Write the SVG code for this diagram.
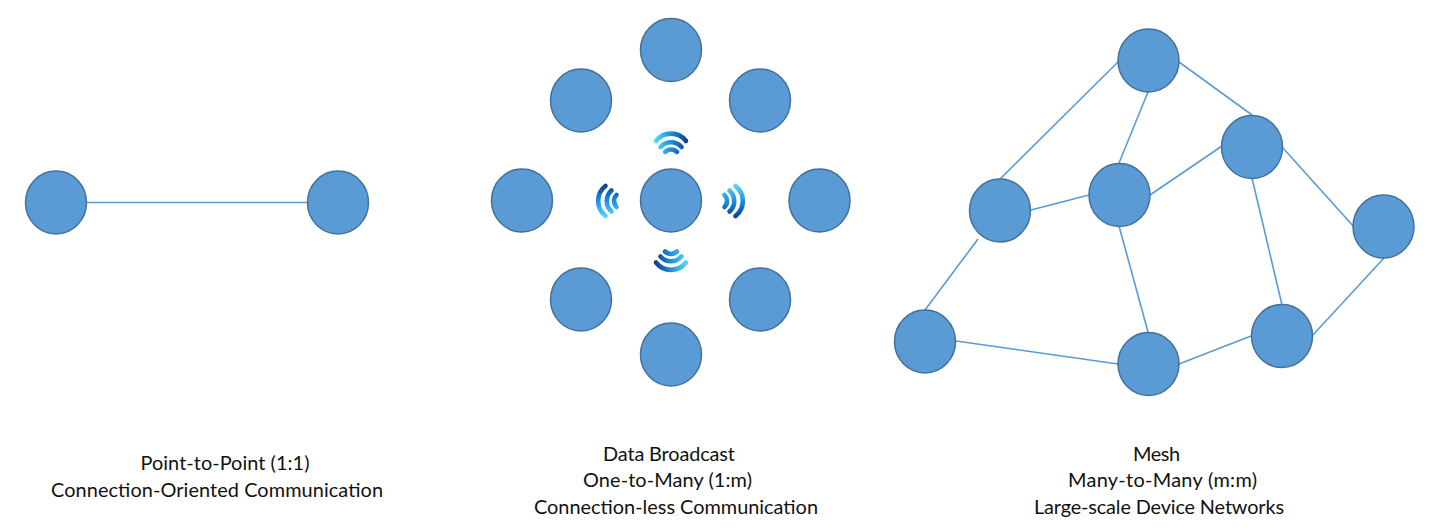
<svg xmlns="http://www.w3.org/2000/svg" xmlns:xlink="http://www.w3.org/1999/xlink" width="1437" height="530" viewBox="0 0 1437 530">
<style>
.n{fill:#5b9bd5;stroke:#41719c;stroke-width:1.5}
.c line{stroke:#5b9bd5;stroke-width:1.6}
.t{font-family:Lato,"Open Sans","Liberation Sans",sans-serif;font-size:19.9px;fill:#111;text-anchor:middle}
.w path{fill:none;stroke:url(#g);stroke-linecap:round;stroke-width:4.6}
</style>
<defs>
<linearGradient id="g" gradientUnits="userSpaceOnUse" x1="-16" y1="0" x2="16" y2="0">
<stop offset="0" stop-color="#5ad6fd"/><stop offset=".5" stop-color="#1f8fe0"/><stop offset="1" stop-color="#0b3f96"/>
</linearGradient>
<g id="wifi" class="w">
<path d="M-15-58.5A19 19 0 0 1 15-58.5"/>
<path d="M-10.5-52.5A14 14 0 0 1 10.5-52.5"/>
<path d="M-6-47.5A8.5 8.5 0 0 1 6-47.5"/>
</g>
</defs>
<g id="connectors" class="c">
<line x1="87" y1="202.5" x2="307" y2="202.5"/>
<line x1="1118" y1="62" x2="1000" y2="179"/>
<line x1="1148" y1="92" x2="1119" y2="163"/>
<line x1="1179" y1="62" x2="1252" y2="115"/>
<line x1="1222" y1="146" x2="1150" y2="195"/>
<line x1="1089" y1="195" x2="1031" y2="210"/>
<line x1="1283" y1="148" x2="1354" y2="227"/>
<line x1="1252" y1="178" x2="1282" y2="305"/>
<line x1="1119" y1="226" x2="1148" y2="332"/>
<line x1="978" y1="239" x2="925" y2="310"/>
<line x1="956" y1="341" x2="1118" y2="364"/>
<line x1="1179" y1="364" x2="1251" y2="336"/>
<line x1="1312" y1="336" x2="1384" y2="258"/>
</g>
<g id="signals">
<use xlink:href="#wifi" href="#wifi" transform="translate(671 199.5)"/>
<use xlink:href="#wifi" href="#wifi" transform="translate(677 201) rotate(90)"/>
<use xlink:href="#wifi" href="#wifi" transform="translate(671 204) rotate(180)"/>
<use xlink:href="#wifi" href="#wifi" transform="translate(664 201) rotate(270)"/>
</g>
<g id="p2p-a"><ellipse class="n" cx="56" cy="202.5" rx="30.5" ry="31.5"/></g>
<g id="p2p-b"><ellipse class="n" cx="338" cy="202.5" rx="30.5" ry="31.5"/></g>
<g id="b-n"><ellipse class="n" cx="671" cy="50" rx="30.5" ry="31.5"/></g>
<g id="b-nw"><ellipse class="n" cx="581" cy="100.5" rx="30.5" ry="31.5"/></g>
<g id="b-ne"><ellipse class="n" cx="760" cy="100.5" rx="30.5" ry="31.5"/></g>
<g id="b-w"><ellipse class="n" cx="522" cy="200.5" rx="30.5" ry="31.5"/></g>
<g id="b-c"><ellipse class="n" cx="671" cy="200.5" rx="30.5" ry="31.5"/></g>
<g id="b-e"><ellipse class="n" cx="819.5" cy="200.5" rx="30.5" ry="31.5"/></g>
<g id="b-sw"><ellipse class="n" cx="581" cy="299.5" rx="30.5" ry="31.5"/></g>
<g id="b-se"><ellipse class="n" cx="760" cy="299.5" rx="30.5" ry="31.5"/></g>
<g id="b-s"><ellipse class="n" cx="671" cy="354.5" rx="30.5" ry="31.5"/></g>
<g id="m-a"><ellipse class="n" cx="1148.5" cy="60.5" rx="30.5" ry="31.5"/></g>
<g id="m-b"><ellipse class="n" cx="1252" cy="147" rx="30.5" ry="31.5"/></g>
<g id="m-c"><ellipse class="n" cx="1119.5" cy="195" rx="30.5" ry="31.5"/></g>
<g id="m-d"><ellipse class="n" cx="1000" cy="210.5" rx="30.5" ry="31.5"/></g>
<g id="m-e"><ellipse class="n" cx="1383.5" cy="226.5" rx="30.5" ry="31.5"/></g>
<g id="m-f"><ellipse class="n" cx="925" cy="341.5" rx="30.5" ry="31.5"/></g>
<g id="m-g"><ellipse class="n" cx="1148.5" cy="364" rx="30.5" ry="31.5"/></g>
<g id="m-h"><ellipse class="n" cx="1282" cy="336" rx="30.5" ry="31.5"/></g>
<g id="labels">
<text class="t" x="225" y="470" textLength="169">Point-to-Point (1:1)</text>
<text class="t" x="217" y="497" textLength="332">Connection-Oriented Communication</text>
<text class="t" x="669" y="461" textLength="132">Data Broadcast</text>
<text class="t" x="667.5" y="487" textLength="169">One-to-Many (1:m)</text>
<text class="t" x="676" y="514" textLength="284">Connection-less Communication</text>
<text class="t" x="1156.5" y="461" textLength="47">Mesh</text>
<text class="t" x="1162.5" y="487" textLength="189">Many-to-Many (m:m)</text>
<text class="t" x="1159" y="514" textLength="250">Large-scale Device Networks</text>
</g>
</svg>
